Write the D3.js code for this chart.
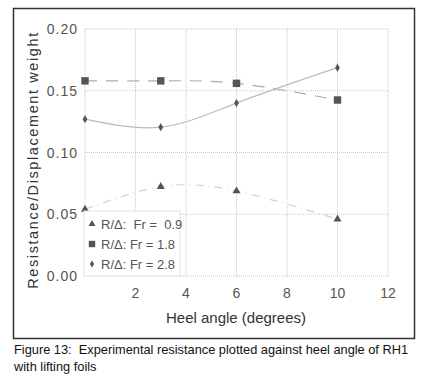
<!DOCTYPE html>
<html>
<head>
<meta charset="utf-8">
<script src="https://cdn.jsdelivr.net/npm/d3@7"></script>
<style>
  body { margin: 0; background: #fff; }
  svg { font-family: "Liberation Sans", Arial, sans-serif; }
  text { white-space: pre; }
</style>
</head>
<body>
<div id="chart"></div>
<script>
// values
const heel = [0, 3, 6, 10];
const fr09 = [0.054, 0.0723, 0.0688, 0.046];
const fr18 = [0.158, 0.158, 0.156, 0.1425];
const fr28 = [0.127, 0.1205, 0.140, 0.1687];
const xTicks = [2, 4, 6, 8, 10, 12];
const yTicks = [0.00, 0.05, 0.10, 0.15, 0.20];
const legendLabels = ["R/\u0394:  Fr =  0.9", "R/\u0394: Fr = 1.8", "R/\u0394: Fr = 2.8"];

const width = 423, height = 381;

const svg = d3.select("#chart")
    .append("svg")
    .attr("width", width)
    .attr("height", height);

let x = d3.scaleLinear([0, 12], [85, 388]);
let y = d3.scaleLinear([0, 0.2], [276, 29]);

// frame round the chart
svg.append("rect")
    .attr("x", 13.5).attr("y", 8.5)
    .attr("width", 401).attr("height", 330)
    .attr("fill", "none")
    .attr("stroke", "#333")
    .attr("stroke-width", 1.5);

// dotted grid
const grid = svg.append("g")
    .attr("stroke", "#c8c8c8")
    .attr("stroke-width", 1)
    .attr("stroke-dasharray", "1,1");

grid.selectAll("line.h")
    .data(yTicks)
    .join("line")
    .attr("x1", x(0)).attr("x2", x(12))
    .attr("y1", d => y(d)).attr("y2", d => y(d));

grid.selectAll("line.v")
    .data([0].concat(xTicks))
    .join("line")
    .attr("x1", d => x(d)).attr("x2", d => x(d))
    .attr("y1", y(0)).attr("y2", y(0.2));

// tick labels
svg.append("g")
    .selectAll("text")
    .data(yTicks)
    .join("text")
    .attr("x", 78)
    .attr("y", d => y(d) + 5)
    .attr("text-anchor", "end")
    .attr("font-size", 14)
    .attr("letter-spacing", 1)
    .attr("fill", "#555")
    .text(d => d.toFixed(2));

svg.append("g")
    .selectAll("text")
    .data(xTicks)
    .join("text")
    .attr("x", d => x(d))
    .attr("y", 298)
    .attr("text-anchor", "middle")
    .attr("font-size", 14)
    .attr("fill", "#555")
    .text(d => d);

// axis titles
svg.append("text")
    .attr("x", 236).attr("y", 323)
    .attr("text-anchor", "middle")
    .attr("font-size", 15)
    .attr("fill", "#333")
    .text("Heel angle (degrees)");

svg.append("text")
    .attr("transform", "translate(38,160) rotate(-90)")
    .attr("text-anchor", "middle")
    .attr("font-size", 14.5)
    .attr("letter-spacing", 1.6)
    .attr("fill", "#333")
    .text("Resistance/Displacement weight");

// fitted curves
const line = d3.line()
    .x(d => x(d[0]))
    .y(d => y(d[1]))
    .curve(d3.curveNatural);

const series = [
    { vals: fr09, sym: d3.symbolTriangle, size: 28, dash: "8,5,1,5", stroke: "#d0d0d0" },
    { vals: fr18, sym: d3.symbolSquare, size: 55, dash: "12,9", stroke: "#aaa" },
    { vals: fr28, sym: d3.symbolDiamond, size: 20, dash: null, stroke: "#bbb" }
];

series.forEach(s => {
    const pts = heel.map((h, i) => [h, s.vals[i]]);
    svg.append("path")
        .datum(pts)
        .attr("d", line)
        .attr("fill", "none")
        .attr("stroke", s.stroke)
        .attr("stroke-width", 1.2)
        .attr("stroke-dasharray", s.dash);
    svg.append("g")
        .selectAll("path")
        .data(pts)
        .join("path")
        .attr("transform", d => `translate(${x(d[0])},${y(d[1])})`)
        .attr("d", d3.symbol(s.sym, s.size))
        .attr("fill", "#555");
});

// legend
const legend = svg.append("g");
legend.append("rect")
    .attr("x", 84).attr("y", 211)
    .attr("width", 96).attr("height", 65)
    .attr("fill", "#fff")
    .attr("stroke", "#e2e2e2");

const rows = legend.selectAll("g")
    .data(series)
    .join("g")
    .attr("transform", (d, i) => `translate(92,${224 + i * 20})`);

rows.append("path")
    .attr("d", d => d3.symbol(d.sym, d.size * 0.75)())
    .attr("fill", "#555");

rows.append("text")
    .attr("x", 9)
    .attr("y", 4.5)
    .attr("font-size", 13)
    .attr("fill", "#555")
    .text((d, i) => legendLabels[i]);

// caption
svg.append("text")
    .attr("x", 14).attr("y", 354)
    .attr("font-size", 12.8)
    .attr("fill", "#111")
    .text("Figure 13:  Experimental resistance plotted against heel angle of RH1");

svg.append("text")
    .attr("x", 14).attr("y", 371)
    .attr("font-size", 12.8)
    .attr("fill", "#111")
    .text("with lifting foils");
</script>
</body>
</html>
